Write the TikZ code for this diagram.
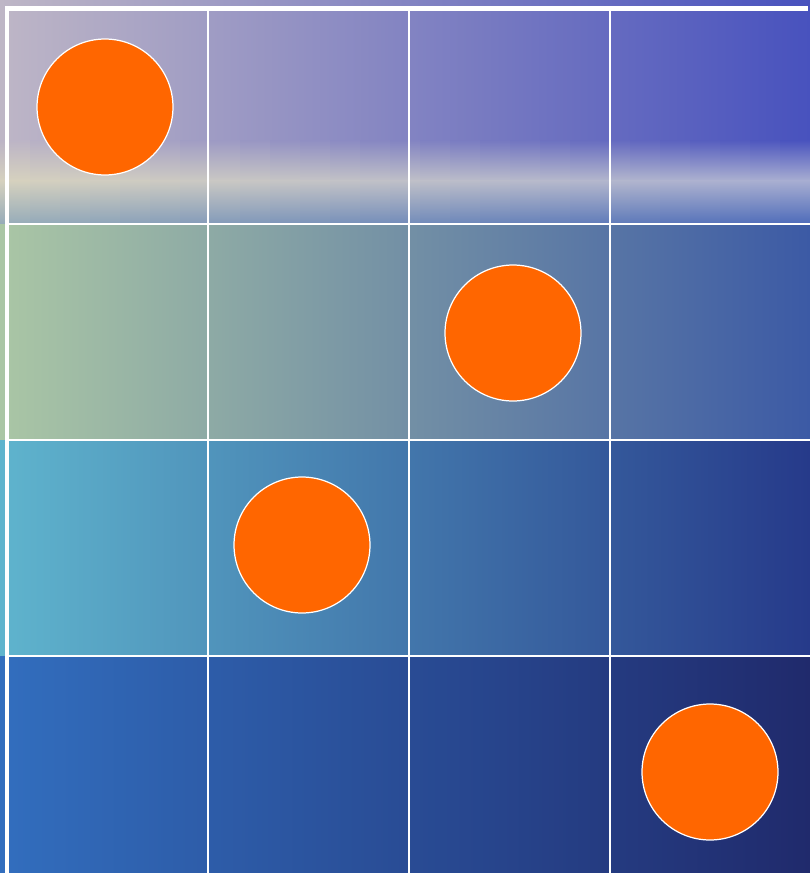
\documentclass[tikz,border=0pt]{standalone}
\usetikzlibrary{positioning}
\definecolor{tokenorange}{RGB}{255,102,0}
\definecolor{skyL}{RGB}{190,182,198}
\definecolor{skyR}{RGB}{72,82,190}
\definecolor{hazeL}{RGB}{215,210,190}
\definecolor{hazeR}{RGB}{168,174,210}
\definecolor{shoreL}{RGB}{150,172,185}
\definecolor{shoreR}{RGB}{75,105,185}
\definecolor{seaAL}{RGB}{170,198,165}
\definecolor{seaAR}{RGB}{60,90,165}
\definecolor{seaBL}{RGB}{95,180,205}
\definecolor{seaBR}{RGB}{38,58,138}
\definecolor{seaCL}{RGB}{50,110,190}
\definecolor{seaCR}{RGB}{32,42,108}

\begin{document}
\begin{tikzpicture}[
    x=0.02cm, y=-0.02cm,
    gridline/.style={draw=white, line width=0.05cm},
    frameline/.style={draw=white, line width=0.1cm},
    token/.style={circle, draw=white, fill=tokenorange, line width=0.7pt, minimum size=2.72cm, inner sep=0pt}
]
    \useasboundingbox (0,0) rectangle (810,873);

    % Sky
    \shade[left color=skyL, right color=skyR] (0,0) rectangle (810,141);

    % Horizon, in thin strips
    \foreach \i in {0,...,26} {
        \pgfmathtruncatemacro{\p}{100*(1-(\i*30+15)/810)}
        \colorlet{skyX}{skyL!\p!skyR}
        \colorlet{hazeX}{hazeL!\p!hazeR}
        \colorlet{shoreX}{shoreL!\p!shoreR}
        \shade[top color=skyX, bottom color=hazeX] (\i*30,140) rectangle (\i*30+31,181);
        \shade[top color=hazeX, bottom color=shoreX] (\i*30,180) rectangle (\i*30+31,225);
    }

    % Sea rows
    \foreach \ya/\yb/\lc/\rc in {224/441/seaAL/seaAR, 440/657/seaBL/seaBR, 656/873/seaCL/seaCR}
        \shade[left color=\lc, right color=\rc] (0,\ya) rectangle (810,\yb);

    % Grid
    \foreach \x in {208, 409, 610}
        \draw[gridline] (\x,9) -- (\x,873);
    \foreach \y in {224, 440, 656}
        \draw[gridline] (7,\y) -- (810,\y);

    % Frame (top and left)
    \draw[frameline] (5,8.5) -- (808,8.5);
    \draw[frameline] (7,6) -- (7,873);

    % Tokens
    \node[token] (t1) at (105,107) {};
    \node[token] (t2) at (513,333) {};
    \node[token] (t3) at (302,545) {};
    \node[token] (t4) at (710,772) {};
\end{tikzpicture}
\end{document}
